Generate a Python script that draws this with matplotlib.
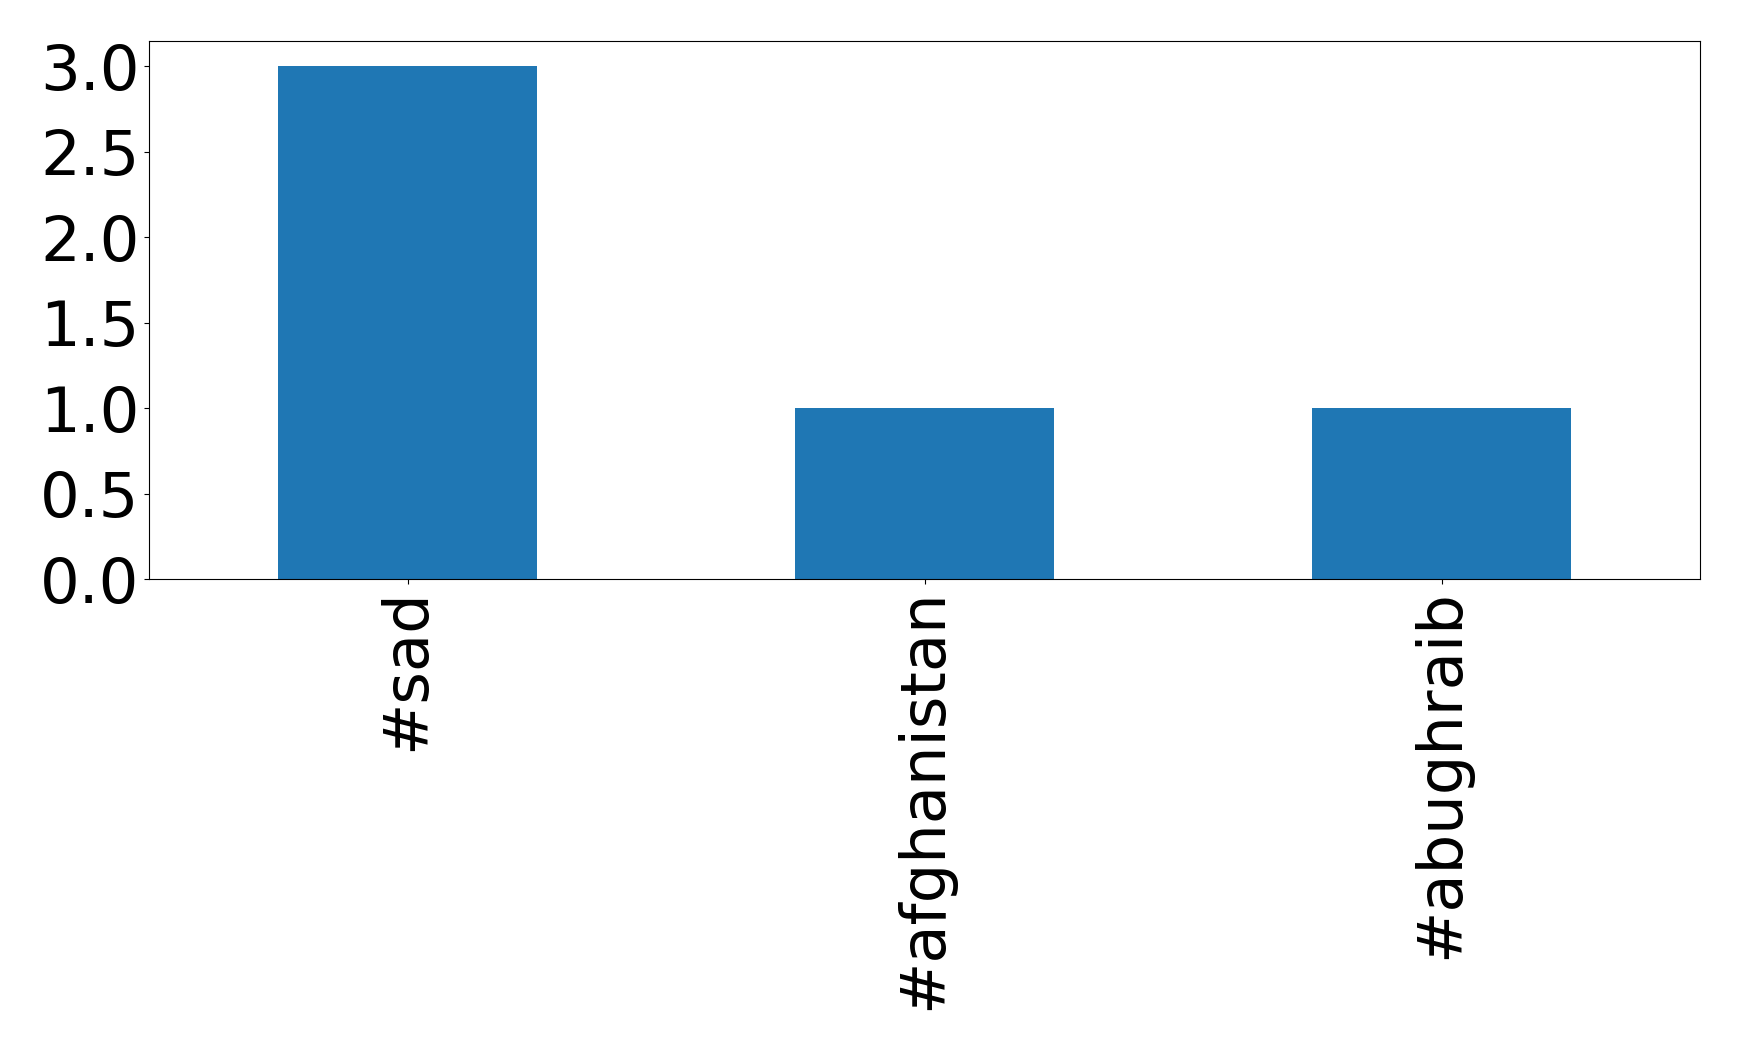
import matplotlib
matplotlib.use("Agg")
import matplotlib.pyplot as plt

categories = ["#sad", "#afghanistan", "#abughraib"]
counts = [3, 1, 1]

fig = plt.figure(figsize=(17.39, 10.5), dpi=100)
ax = fig.add_axes([149/1739, 1 - 579/1050, (1700 - 149)/1739, (579 - 40.5)/1050])
x = list(range(len(categories)))
ax.bar(x, counts, width=0.5, color="#1f77b4")
ax.set_xlim(-0.5, len(categories) - 0.5)
ax.set_ylim(0, 3.15)
ax.set_xticks(x)
ax.set_xticklabels(categories, rotation=90)
ax.set_yticks([0, 0.5, 1.0, 1.5, 2.0, 2.5, 3.0])
ax.set_yticklabels(["0.0", "0.5", "1.0", "1.5", "2.0", "2.5", "3.0"])
ax.tick_params(labelsize=45)
fig.savefig("out.png", dpi=100)
